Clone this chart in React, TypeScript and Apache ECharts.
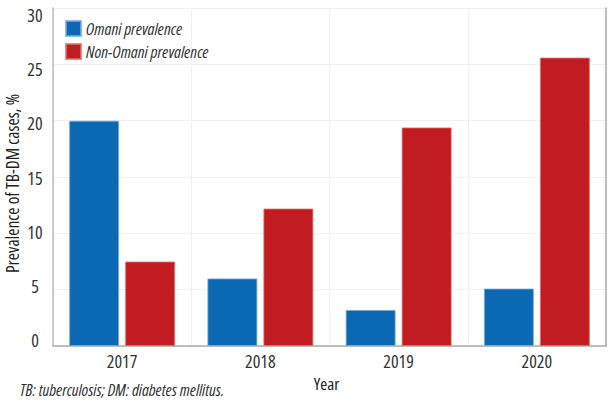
import React, { useEffect, useRef } from "react";
import * as echarts from "echarts";

const years = ["2017", "2018", "2019", "2020"];
const omani = [20.0, 6.0, 3.2, 5.1];
const nonOmani = [7.5, 12.2, 19.4, 25.6];
const seriesNames = ["Omani prevalence", "Non-Omani prevalence"];
const yTitle = "Prevalence of TB-DM cases, %";
const xTitle = "Year";
const footnote = "TB: tuberculosis; DM: diabetes mellitus.";

const FONT = "'Open Sans', sans-serif";
const BLUE = "#0b69b4";
const RED = "#c11c21";

export default function App() {
  const ref = useRef<HTMLDivElement>(null);
  useEffect(() => {
    if (!ref.current) return;
    const chart = echarts.init(ref.current, undefined, { renderer: "svg" });
    chart.setOption({
      animation: false,
      backgroundColor: "#ffffff",
      textStyle: { fontFamily: FONT },
      grid: [
        { left: 53, right: 5, top: 8, bottom: 60, outerBoundsMode: "none", containLabel: false },
        { left: 53, right: 5, top: 15, bottom: 66, outerBoundsMode: "none", containLabel: false },
      ],
      legend: {
        orient: "vertical",
        left: 60,
        top: 15,
        itemWidth: 15,
        itemHeight: 15,
        itemGap: 6,
        icon: "rect",
        data: seriesNames,
        textStyle: { fontFamily: FONT, fontStyle: "italic", fontSize: 16.8, color: "#333" },
      },
      xAxis: [
        {
          type: "category",
          gridIndex: 0,
          data: years,
          axisLine: { show: true, lineStyle: { color: "#aaaaaa", width: 1.5 } },
          axisTick: { show: false },
          axisLabel: { fontFamily: FONT, fontSize: 18, color: "#333", margin: 6 },
          splitLine: { show: true, lineStyle: { color: "#f0f0f0", width: 1 } },
          name: xTitle,
          nameLocation: "middle",
          nameGap: 27,
          nameTextStyle: { fontFamily: FONT, fontSize: 17, color: "#222", padding: [0, 6, 0, 0] },
        },
        { type: "value", gridIndex: 1, min: 0, max: 1, show: false },
      ],
      yAxis: [
        {
          type: "value",
          gridIndex: 0,
          min: 0,
          max: 30,
          interval: 5,
          axisLine: { show: true, lineStyle: { color: "#bbbbbb", width: 1.5 } },
          axisTick: { show: false },
          axisLabel: { show: false },
          splitLine: { show: true, lineStyle: { color: "#f0f0f0", width: 1 } },
          name: yTitle,
          nameLocation: "middle",
          nameGap: 32,
          nameTextStyle: { fontFamily: FONT, fontSize: 17.5, color: "#222", padding: [0, 13, 0, 0] },
        },
        {
          type: "value",
          gridIndex: 0,
          position: "right",
          min: 0,
          max: 30,
          interval: 5,
          axisLine: { show: true, lineStyle: { color: "#aaaaaa", width: 1.5 } },
          axisTick: { show: false },
          axisLabel: { show: false },
          splitLine: { show: false },
        },
        {
          type: "value",
          gridIndex: 1,
          min: 0,
          max: 30,
          interval: 5,
          axisLine: { show: false },
          axisTick: { show: false },
          splitLine: { show: false },
          axisLabel: { fontFamily: FONT, fontSize: 18, color: "#333", align: "center", margin: 18 },
        },
      ],
      series: [
        {
          name: seriesNames[0],
          type: "bar",
          xAxisIndex: 0,
          yAxisIndex: 0,
          data: omani,
          barWidth: 50,
          barGap: "12%",
          itemStyle: { color: BLUE, borderColor: "rgba(120,170,220,0.8)", borderWidth: 1 },
        },
        {
          name: seriesNames[1],
          type: "bar",
          xAxisIndex: 0,
          yAxisIndex: 0,
          data: nonOmani,
          barWidth: 50,
          barGap: "12%",
          itemStyle: { color: RED, borderColor: "rgba(225,110,110,0.8)", borderWidth: 1 },
        },
      ],
      graphic: [
        {
          type: "text",
          left: 20,
          top: 381,
          style: {
            text: footnote,
            fontFamily: FONT,
            fontStyle: "italic",
            fontSize: 16.5,
            fill: "#333",
          },
        },
      ],
    });
    return () => chart.dispose();
  }, []);
  return (
    <>
      <style>{`#root svg text { font-stretch: 75% !important; }`}</style>
      <div
        ref={ref}
        style={{ position: "fixed", left: 0, top: 0, width: 611, height: 406 }}
      />
    </>
  );
}
